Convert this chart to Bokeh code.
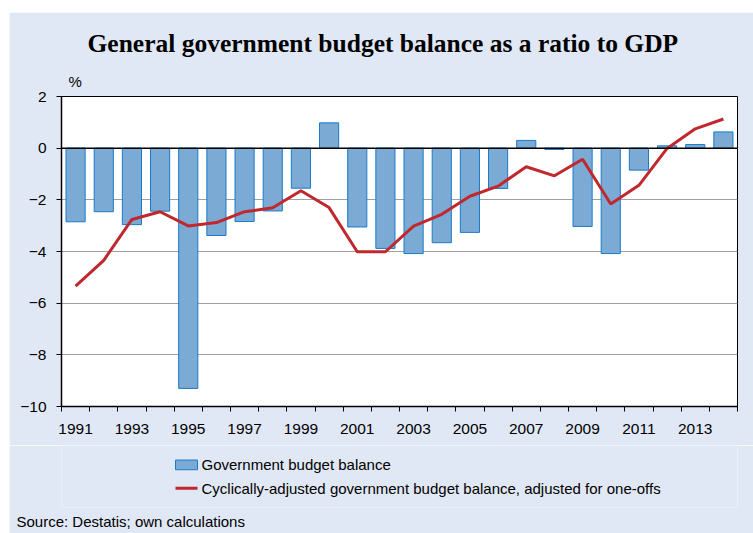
from bokeh.plotting import figure
from bokeh.layouts import column
from bokeh.models import Range1d, FixedTicker, Span, Title
from bokeh.core.properties import value
from bokeh.embed import file_html
from bokeh.resources import INLINE

years = list(range(1991, 2015))
budget_balance = [-2.85, -2.46, -2.96, -2.44, -9.30, -3.38, -2.84, -2.43, -1.55, 0.98,
                  -3.05, -3.88, -4.08, -3.66, -3.26, -1.56, 0.30, -0.05, -3.03, -4.08,
                  -0.85, 0.09, 0.14, 0.63]
cyclically_adjusted = [-5.34, -4.34, -2.76, -2.46, -3.01, -2.88, -2.46, -2.31, -1.65, -2.30,
                       -4.01, -4.01, -3.02, -2.56, -1.86, -1.47, -0.72, -1.07, -0.43, -2.16,
                       -1.44, -0.01, 0.75, 1.13]
y_ticks = [2, 0, -2, -4, -6, -8, -10]
x_label_years = list(range(1991, 2015, 2))
series_names = ["Government budget balance",
                "Cyclically-adjusted government budget balance, adjusted for one-offs"]

PANEL = "#E1E8F5"
FONT = "Liberation Sans"
BAR_FILL = "#7BAAD5"
BAR_LINE = "#1A7BC9"
LINE_COLOR = "#C0282E"

# ---------------- main chart ----------------
p = figure(width=744, height=433, output_backend="svg", toolbar_location=None,
           x_range=Range1d(1990.5, 2014.5), y_range=Range1d(-10, 2),
           min_border_left=52, min_border_right=16, min_border_top=84, min_border_bottom=39)
p.margin = (12, 0, 0, 9)
p.border_fill_color = PANEL
p.background_fill_color = "white"
p.outline_line_color = "black"
p.outline_line_width = 1

p.vbar(x=years, top=budget_balance, bottom=0, width=0.68,
       fill_color=BAR_FILL, line_color=BAR_LINE, line_width=1)
p.line(x=years, y=cyclically_adjusted, line_color=LINE_COLOR, line_width=3)

p.add_layout(Span(location=0, dimension="width", line_color="black", line_width=1.5))

p.xgrid.grid_line_color = None
p.ygrid.grid_line_color = "#A0A0A0"
p.ygrid.grid_line_width = 1
p.yaxis.ticker = FixedTicker(ticks=y_ticks)
p.xaxis.ticker = FixedTicker(ticks=x_label_years,
                             minor_ticks=[y - 0.5 for y in years] + [years[-1] + 0.5])
for ax in (p.xaxis[0], p.yaxis[0]):
    ax.axis_line_color = "black"
    ax.axis_line_width = 1.5
    ax.major_label_text_font = FONT
    ax.major_label_text_font_size = "15.5px"
    ax.major_label_text_color = "black"
p.yaxis.major_tick_out = 5
p.yaxis.major_tick_in = 0
p.yaxis.major_tick_line_color = "black"
p.yaxis.minor_tick_line_color = None
p.yaxis.major_label_standoff = 10
p.xaxis.major_tick_line_color = None
p.xaxis.major_tick_out = 5
p.xaxis.major_tick_in = 0
p.xaxis.minor_tick_line_color = "black"
p.xaxis.minor_tick_out = 5
p.xaxis.minor_tick_in = 0
p.xaxis.major_label_standoff = 12

# titles (first added sits closest to the frame)
p.add_layout(Title(text="%", align="left", offset=7, standoff=13,
                   text_font=FONT, text_font_size="15px", text_font_style="normal",
                   text_color="black"), "above")
p.add_layout(Title(text="General government budget balance as a ratio to GDP",
                   align="left", offset=26, standoff=13,
                   text_font="Liberation Serif", text_font_style="bold",
                   text_font_size="25.5px", text_color="black"), "above")

# ---------------- legend + source strip (coordinates = page pixels) ----------------
leg = figure(width=744, height=88, output_backend="svg", toolbar_location=None,
             x_range=Range1d(61, 737), y_range=Range1d(509, 445),
             x_axis_location=None, y_axis_location=None,
             min_border_left=52, min_border_right=16,
             min_border_top=0, min_border_bottom=24)
leg.margin = (0, 0, 0, 9)
leg.border_fill_color = PANEL
leg.background_fill_color = PANEL
leg.outline_line_color = None
leg.grid.grid_line_color = None

SW_X0, SW_X1 = 175, 197
ROW_Y = [465, 489]
leg.quad(left=[SW_X0], right=[SW_X1], top=[ROW_Y[0] - 5], bottom=[ROW_Y[0] + 5],
         fill_color=BAR_FILL, line_color=BAR_LINE, line_width=1)
leg.segment(x0=[SW_X0], x1=[SW_X1], y0=[ROW_Y[1]], y1=[ROW_Y[1]],
            line_color=LINE_COLOR, line_width=3)
leg.text(x=[SW_X1 + 4, SW_X1 + 4], y=ROW_Y, text=series_names,
         text_font=value(FONT), text_font_size="15px", text_color="black",
         text_align="left", text_baseline="middle")
leg.add_layout(Title(text="Source: Destatis; own calculations", align="left", offset=-45,
                     standoff=7, text_font=FONT, text_font_size="15px",
                     text_font_style="normal", text_color="black"), "below")

layout = column(p, leg, spacing=0)
open("out.html", "w").write(file_html(layout, INLINE))
